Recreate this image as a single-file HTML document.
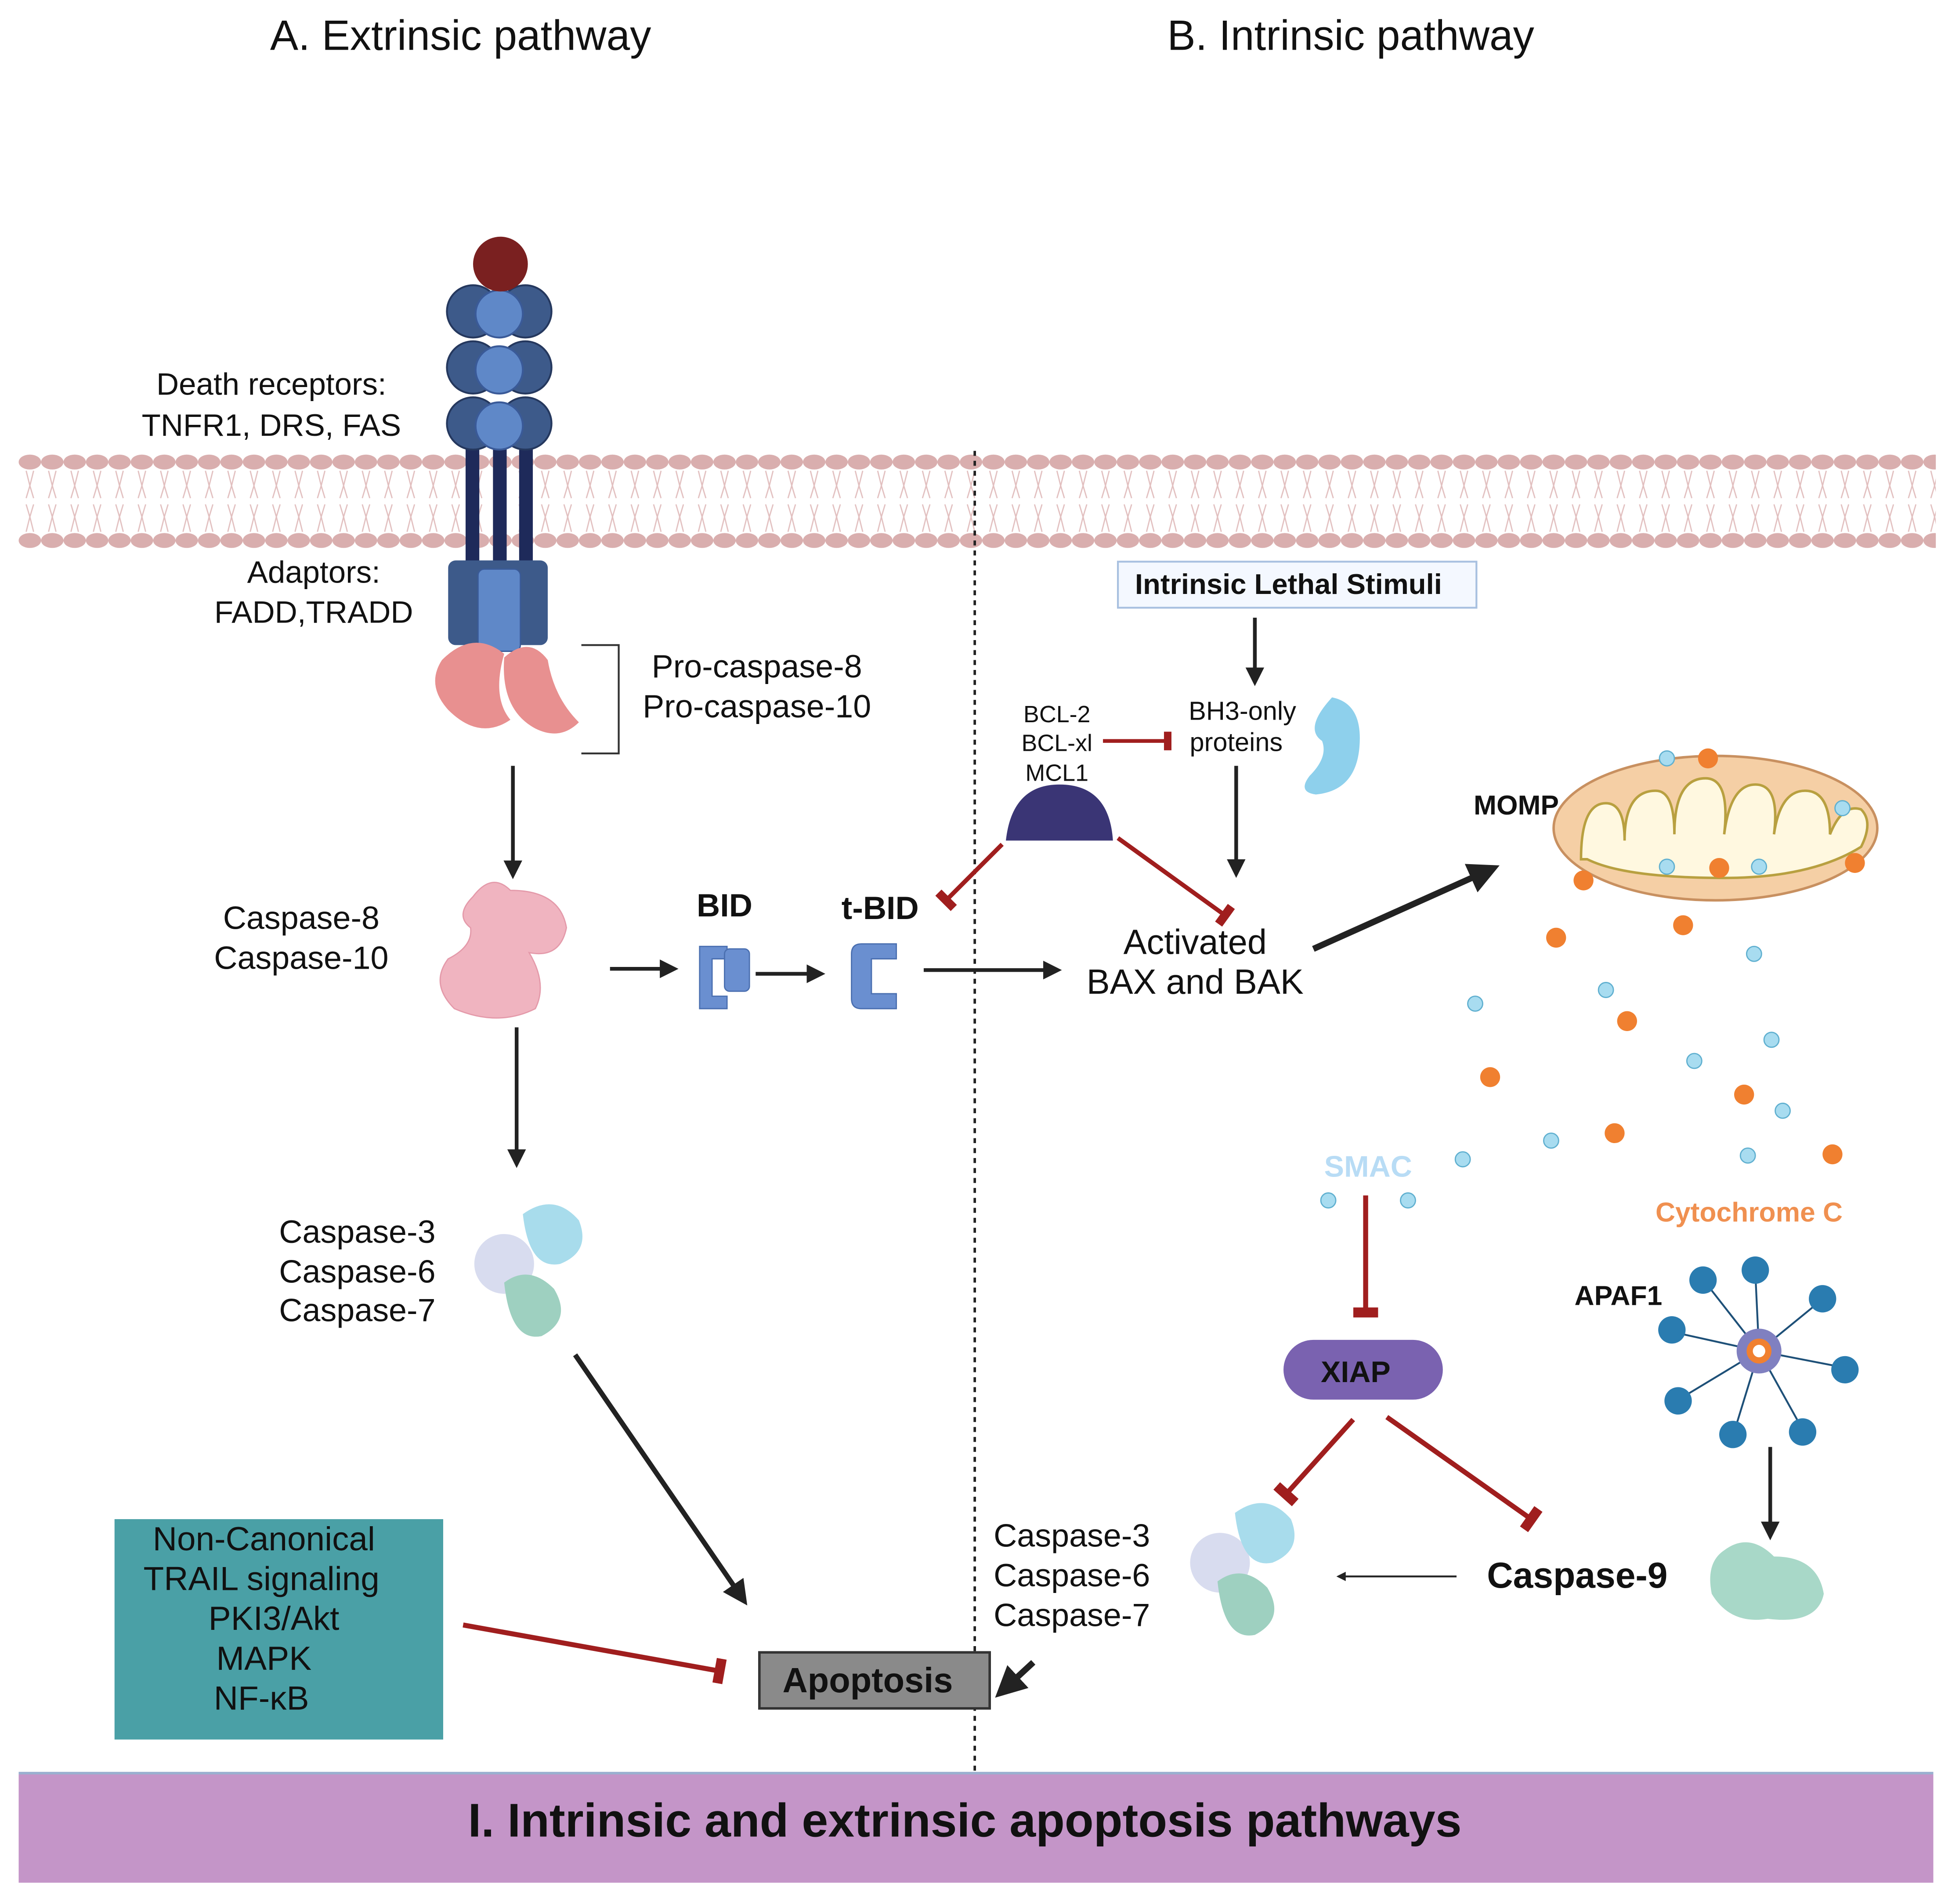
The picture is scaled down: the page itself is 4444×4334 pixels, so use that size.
<!DOCTYPE html>
<html><head><meta charset="utf-8"><style>
html,body{margin:0;padding:0;background:#fff}
svg{display:block}
text{font-family:"Liberation Sans",sans-serif;fill:#111}
</style></head><body>
<svg width="4444" height="4334" viewBox="0 0 1568 1529" xmlns="http://www.w3.org/2000/svg">
<defs>
<pattern id="mem" x="15" y="360" width="18" height="84" patternUnits="userSpaceOnUse">
<ellipse cx="9" cy="11" rx="9" ry="6" fill="#d9aeae"/>
<ellipse cx="9" cy="74" rx="9" ry="6" fill="#d9aeae"/>
<path d="M6 18 L9 30 L6 40 M12 18 L9 30 L12 40 M6 45 L9 55 L6 67 M12 45 L9 55 L12 67" stroke="#e2c0c0" stroke-width="1" fill="none"/>
</pattern>
<marker id="ar" viewBox="0 0 10 10" refX="8" refY="5" markerWidth="5" markerHeight="5" orient="auto"><path d="M0 0L10 5L0 10z" fill="#222"/></marker>
<marker id="tb" viewBox="0 0 4 10" refX="2" refY="5" markerWidth="2.5" markerHeight="5" orient="auto"><rect x="0" y="0" width="4" height="10" fill="#a01e1e"/></marker>
</defs>
<rect width="1568" height="1529" fill="#fff"/>
<text x="370" y="40" font-size="34" text-anchor="middle">A. Extrinsic pathway</text>
<text x="1085" y="40" font-size="34" text-anchor="middle">B. Intrinsic pathway</text>
<rect x="15" y="360" width="1540" height="84" fill="url(#mem)"/>
<line x1="783" y1="362" x2="783" y2="1422" stroke="#222" stroke-width="2" stroke-dasharray="4,4"/>
<!-- receptor -->
<rect x="374" y="340" width="11" height="120" fill="#1e2a5a"/>
<rect x="396" y="340" width="11" height="120" fill="#1e2a5a"/>
<rect x="417" y="340" width="11" height="120" fill="#1e2a5a"/>
<g fill="#3d5a8a" stroke="#25385e" stroke-width="1.5">
<circle cx="380" cy="250" r="21"/><circle cx="422" cy="250" r="21"/>
<circle cx="380" cy="295" r="21"/><circle cx="422" cy="295" r="21"/>
<circle cx="380" cy="340" r="21"/><circle cx="422" cy="340" r="21"/>
</g>
<g fill="#5f88c8" stroke="#3a5a98" stroke-width="1.5">
<circle cx="401" cy="252" r="19"/><circle cx="401" cy="297" r="19"/><circle cx="401" cy="342" r="19"/>
</g>
<circle cx="402" cy="212" r="22" fill="#7a2020"/>
<rect x="360" y="450" width="80" height="68" rx="6" fill="#3d5a8a"/>
<rect x="384" y="457" width="34" height="66" rx="5" fill="#5f88c8" stroke="#3a5a98"/>
<path d="M355 530 Q380 505 405 525 Q395 560 410 578 Q385 595 360 570 Q342 550 355 530z" fill="#e89090"/>
<path d="M405 528 Q425 510 440 530 Q445 560 465 580 Q450 595 430 585 Q402 570 405 528z" fill="#e89090"/>
<path d="M467 518 H497 V605 H467" fill="none" stroke="#333" stroke-width="1.5"/>
<text x="218" y="317" font-size="25" text-anchor="middle">Death receptors:</text>
<text x="218" y="350" font-size="25" text-anchor="middle">TNFR1, DRS, FAS</text>
<text x="252" y="468" font-size="25" text-anchor="middle">Adaptors:</text>
<text x="252" y="500" font-size="25" text-anchor="middle">FADD,TRADD</text>
<text x="608" y="544" font-size="26" text-anchor="middle">Pro-caspase-8</text>
<text x="608" y="576" font-size="26" text-anchor="middle">Pro-caspase-10</text>
<line x1="412" y1="615" x2="412" y2="703" stroke="#222" stroke-width="3" marker-end="url(#ar)"/>
<!-- caspase 8 -->
<path d="M380 720 Q395 700 410 715 Q450 715 455 745 Q450 770 425 765 Q440 790 430 810 Q400 825 365 810 Q345 790 360 770 Q380 760 378 745 Q365 735 380 720z" fill="#f0b4c0" stroke="#e49aaa"/>
<text x="242" y="746" font-size="26" text-anchor="middle">Caspase-8</text>
<text x="242" y="778" font-size="26" text-anchor="middle">Caspase-10</text>
<line x1="415" y1="825" x2="415" y2="935" stroke="#222" stroke-width="3" marker-end="url(#ar)"/>
<line x1="490" y1="778" x2="542" y2="778" stroke="#222" stroke-width="3" marker-end="url(#ar)"/>
<text x="582" y="736" font-size="26" text-anchor="middle" font-weight="bold">BID</text>
<path d="M562 760 h22 v10 h-12 v30 h12 v10 h-22z" fill="#6a8fd0" stroke="#4a6fb0"/>
<rect x="582" y="762" width="20" height="34" rx="4" fill="#6a8fd0" stroke="#4a6fb0"/>
<line x1="607" y1="782" x2="660" y2="782" stroke="#222" stroke-width="3" marker-end="url(#ar)"/>
<text x="707" y="738" font-size="26" text-anchor="middle" font-weight="bold">t-BID</text>
<path d="M692 758 q-8 0 -8 8 v36 q0 8 8 8 h28 v-12 h-20 v-28 h20 v-12z" fill="#6a8fd0" stroke="#4a6fb0"/>
<line x1="742" y1="779" x2="850" y2="779" stroke="#222" stroke-width="3" marker-end="url(#ar)"/>
<!-- caspase 3/6/7 left -->
<circle cx="405" cy="1015" r="24" fill="#d8dcef"/>
<path d="M420 975 q25 -18 45 5 q10 25 -15 35 q-25 5 -30 -40z" fill="#a8dcec"/>
<path d="M405 1030 q20 -15 40 5 q15 25 -10 38 q-25 5 -30 -43z" fill="#9ed0c0"/>
<text x="287" y="998" font-size="26" text-anchor="middle">Caspase-3</text>
<text x="287" y="1030" font-size="26" text-anchor="middle">Caspase-6</text>
<text x="287" y="1061" font-size="26" text-anchor="middle">Caspase-7</text>
<line x1="462" y1="1088" x2="598" y2="1286" stroke="#222" stroke-width="4" marker-end="url(#ar)"/>
<rect x="92" y="1220" width="264" height="177" fill="#4aa0a6"/>
<g font-size="27" text-anchor="middle">
<text x="212" y="1245">Non-Canonical</text><text x="210" y="1277">TRAIL signaling</text>
<text x="220" y="1309">PKI3/Akt</text><text x="212" y="1341">MAPK</text><text x="210" y="1373">NF-κB</text></g>
<line x1="372" y1="1305" x2="578" y2="1342" stroke="#a01e1e" stroke-width="4" marker-end="url(#tb)"/>
<rect x="610" y="1327" width="185" height="45" fill="#8a8a8a" stroke="#333" stroke-width="2"/>
<text x="697" y="1359" font-size="28" text-anchor="middle" font-weight="bold">Apoptosis</text>
<line x1="830" y1="1335" x2="803" y2="1360" stroke="#222" stroke-width="5" marker-end="url(#ar)"/>
<!-- intrinsic -->
<rect x="898" y="451" width="288" height="37" fill="#f4f8ff" stroke="#a8c0e0" stroke-width="1.5"/>
<text x="1035" y="477" font-size="23" text-anchor="middle" font-weight="bold">Intrinsic Lethal Stimuli</text>
<line x1="1008" y1="496" x2="1008" y2="548" stroke="#222" stroke-width="3" marker-end="url(#ar)"/>
<g font-size="19" text-anchor="middle"><text x="849" y="580">BCL-2</text><text x="849" y="603">BCL-xl</text><text x="849" y="627">MCL1</text></g>
<g font-size="21" text-anchor="middle"><text x="998" y="578">BH3-only</text><text x="993" y="603">proteins</text></g>
<line x1="886" y1="595" x2="938" y2="595" stroke="#a01e1e" stroke-width="3" marker-end="url(#tb)"/>
<path d="M1070 560 q25 5 22 40 q-3 35 -35 38 q-15 -2 -5 -15 q15 -15 10 -28 q-15 -10 8 -35z" fill="#8ed0ec"/>
<path d="M808 675 q5 -45 43 -45 q40 0 43 45z" fill="#3a3575"/>
<line x1="805" y1="678" x2="760" y2="723" stroke="#a01e1e" stroke-width="3.5" marker-end="url(#tb)"/>
<line x1="898" y1="673" x2="984" y2="735" stroke="#a01e1e" stroke-width="3.5" marker-end="url(#tb)"/>
<line x1="993" y1="615" x2="993" y2="702" stroke="#222" stroke-width="3" marker-end="url(#ar)"/>
<text x="960" y="766" font-size="28" text-anchor="middle">Activated</text>
<text x="960" y="798" font-size="28" text-anchor="middle">BAX and BAK</text>
<line x1="1055" y1="762" x2="1200" y2="697" stroke="#222" stroke-width="5" marker-end="url(#ar)"/>
<text x="1218" y="654" font-size="22" text-anchor="middle" font-weight="bold">MOMP</text>
<ellipse cx="1378" cy="665" rx="130" ry="58" fill="#f5cfa5" stroke="#c89060" stroke-width="2"/>
<path d="M1270 690 q0 -45 20 -45 q15 0 15 30 q0 -40 25 -40 q15 0 15 35 q0 -45 25 -45 q20 0 15 45 q5 -40 25 -40 q20 0 15 40 q5 -35 25 -35 q20 0 20 35 q10 -25 25 -20 q10 10 0 30 q-40 25 -110 25 q-80 0 -110 -15z" fill="#fff8e0" stroke="#b8a040" stroke-width="2"/>
<g fill="#f08030">
<circle cx="1372" cy="609" r="8"/><circle cx="1272" cy="707" r="8"/><circle cx="1381" cy="697" r="8"/><circle cx="1490" cy="693" r="8"/>
<circle cx="1250" cy="753" r="8"/><circle cx="1352" cy="743" r="8"/><circle cx="1307" cy="820" r="8"/><circle cx="1197" cy="865" r="8"/>
<circle cx="1401" cy="879" r="8"/><circle cx="1297" cy="910" r="8"/><circle cx="1472" cy="927" r="8"/>
</g>
<g fill="#a8dcf0" stroke="#60b0d0" stroke-width="1">
<circle cx="1339" cy="609" r="6"/><circle cx="1480" cy="649" r="6"/><circle cx="1339" cy="696" r="6"/><circle cx="1413" cy="696" r="6"/>
<circle cx="1409" cy="766" r="6"/><circle cx="1290" cy="795" r="6"/><circle cx="1185" cy="806" r="6"/><circle cx="1423" cy="835" r="6"/>
<circle cx="1361" cy="852" r="6"/><circle cx="1432" cy="892" r="6"/><circle cx="1246" cy="916" r="6"/><circle cx="1175" cy="931" r="6"/>
<circle cx="1404" cy="928" r="6"/><circle cx="1067" cy="964" r="6"/><circle cx="1131" cy="964" r="6"/>
</g>
<text x="1099" y="945" font-size="24" text-anchor="middle" font-weight="bold" style="fill:#b8dcf5">SMAC</text>
<text x="1405" y="981" font-size="22" text-anchor="middle" font-weight="bold" style="fill:#f09050">Cytochrome C</text>
<line x1="1097" y1="960" x2="1097" y2="1054" stroke="#a01e1e" stroke-width="4" marker-end="url(#tb)"/>
<rect x="1031" y="1076" width="128" height="48" rx="24" fill="#7a62b0"/>
<text x="1089" y="1110" font-size="24" text-anchor="middle" font-weight="bold">XIAP</text>
<line x1="1087" y1="1140" x2="1033" y2="1200" stroke="#a01e1e" stroke-width="4" marker-end="url(#tb)"/>
<line x1="1114" y1="1138" x2="1230" y2="1220" stroke="#a01e1e" stroke-width="4" marker-end="url(#tb)"/>
<text x="1300" y="1048" font-size="22" text-anchor="middle" font-weight="bold">APAF1</text>
<g stroke="#1e5078" stroke-width="1.5" fill="none">
<line x1="1413" y1="1085" x2="1410" y2="1022"/><line x1="1413" y1="1085" x2="1462" y2="1045"/><line x1="1413" y1="1085" x2="1480" y2="1098"/>
<line x1="1413" y1="1085" x2="1448" y2="1148"/><line x1="1413" y1="1085" x2="1393" y2="1150"/><line x1="1413" y1="1085" x2="1350" y2="1123"/>
<line x1="1413" y1="1085" x2="1345" y2="1070"/><line x1="1413" y1="1085" x2="1370" y2="1030"/>
</g>
<g fill="#2a7cb0">
<circle cx="1410" cy="1020" r="11"/><circle cx="1464" cy="1043" r="11"/><circle cx="1482" cy="1100" r="11"/><circle cx="1448" cy="1150" r="11"/>
<circle cx="1392" cy="1152" r="11"/><circle cx="1348" cy="1125" r="11"/><circle cx="1343" cy="1068" r="11"/><circle cx="1368" cy="1028" r="11"/>
</g>
<circle cx="1413" cy="1085" r="18" fill="#8080c0"/><circle cx="1413" cy="1085" r="10" fill="#f08030"/><circle cx="1413" cy="1085" r="5" fill="#fff"/>
<line x1="1422" y1="1162" x2="1422" y2="1234" stroke="#222" stroke-width="3" marker-end="url(#ar)"/>
<path d="M1385 1245 q20 -15 40 5 q35 0 40 30 q-5 25 -45 20 q-30 5 -45 -20 q-5 -25 10 -35z" fill="#a8d8c8"/>
<text x="1267" y="1275" font-size="29" text-anchor="middle" font-weight="bold">Caspase-9</text>
<line x1="1170" y1="1266" x2="1075" y2="1266" stroke="#222" stroke-width="1.5" marker-end="url(#ar)"/>
<circle cx="980" cy="1255" r="24" fill="#d8dcef"/>
<path d="M992 1215 q25 -18 45 5 q10 25 -15 35 q-25 5 -30 -40z" fill="#a8dcec"/>
<path d="M978 1270 q20 -15 40 5 q15 25 -10 38 q-25 5 -30 -43z" fill="#9ed0c0"/>
<text x="861" y="1242" font-size="26" text-anchor="middle">Caspase-3</text>
<text x="861" y="1274" font-size="26" text-anchor="middle">Caspase-6</text>
<text x="861" y="1306" font-size="26" text-anchor="middle">Caspase-7</text>
<rect x="15" y="1423" width="1538" height="89" fill="#c495c8"/>
<line x1="15" y1="1424" x2="1553" y2="1424" stroke="#9ab0d0" stroke-width="2"/>
<text x="775" y="1475" font-size="38" text-anchor="middle" font-weight="bold">I. Intrinsic and extrinsic apoptosis pathways</text>
</svg>
</body></html>
